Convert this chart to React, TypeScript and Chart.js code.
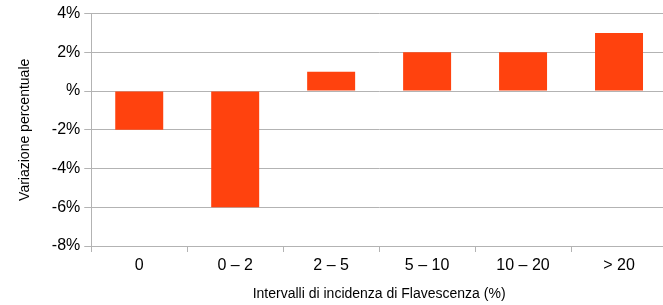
import React, { useEffect, useRef } from "react";
import { Chart, registerables } from "chart.js";

Chart.register(...registerables);

const categories = ["0", "0 – 2", "2 – 5", "5 – 10", "10 – 20", "> 20"];
const values = [-2, -6, 1, 2, 2, 3];
const yTicks = [-8, -6, -4, -2, 0, 2, 4];
const xTitle = "Intervalli di incidenza di Flavescenza (%)";
const yTitle = "Variazione percentuale";

export default function App() {
  const ref = useRef<HTMLCanvasElement | null>(null);
  useEffect(() => {
    if (!ref.current) return;
    const font = "'Liberation Sans', Arial, sans-serif";
    const chart = new Chart(ref.current, {
      type: "bar",
      data: {
        labels: categories,
        datasets: [
          {
            data: values,
            backgroundColor: "#ff420e",
            borderWidth: 0,
            barPercentage: 0.5,
            categoryPercentage: 1,
          },
        ],
      },
      options: {
        animation: false,
        responsive: false,
        maintainAspectRatio: false,
        layout: { padding: { top: 0, right: 0, left: 6, bottom: 2 } },
        plugins: { legend: { display: false }, tooltip: { enabled: false } },
        scales: {
          x: {
            grid: {
              offset: true,
              drawOnChartArea: false,
              drawTicks: true,
              tickLength: 6,
              color: "#b3b3b3",
            },
            border: { display: false },
            ticks: {
              color: "#000",
              font: { family: font, size: 16 },
              padding: 4,
            },
            title: {
              display: true,
              text: xTitle,
              color: "#000",
              font: { family: font, size: 14 },
              padding: { top: 7, bottom: 0 },
            },
          },
          y: {
            min: -8,
            max: 4,
            afterBuildTicks: (axis: any) => {
              axis.ticks = yTicks.map((v) => ({ value: v }));
            },
            grid: {
              color: "#b3b3b3",
              drawTicks: true,
              tickLength: 7,
            },
            border: { display: true, color: "#b3b3b3" },
            ticks: {
              color: "#000",
              font: { family: font, size: 16 },
              padding: 4,
              callback: (v: any) => (Number(v) === 0 ? "%" : v + "%"),
            },
            title: {
              display: true,
              text: yTitle,
              color: "#000",
              font: { family: font, size: 14 },
              padding: { top: 11, bottom: 14 },
            },
          },
        },
      },
    });
    return () => chart.destroy();
  }, []);
  return (
    <div style={{ position: "fixed", left: 0, top: 0, width: 663, height: 305, overflow: "hidden", background: "#fff" }}>
      <canvas ref={ref} width={667} height={305} style={{ width: 667, height: 305, display: "block" }} />
    </div>
  );
}
